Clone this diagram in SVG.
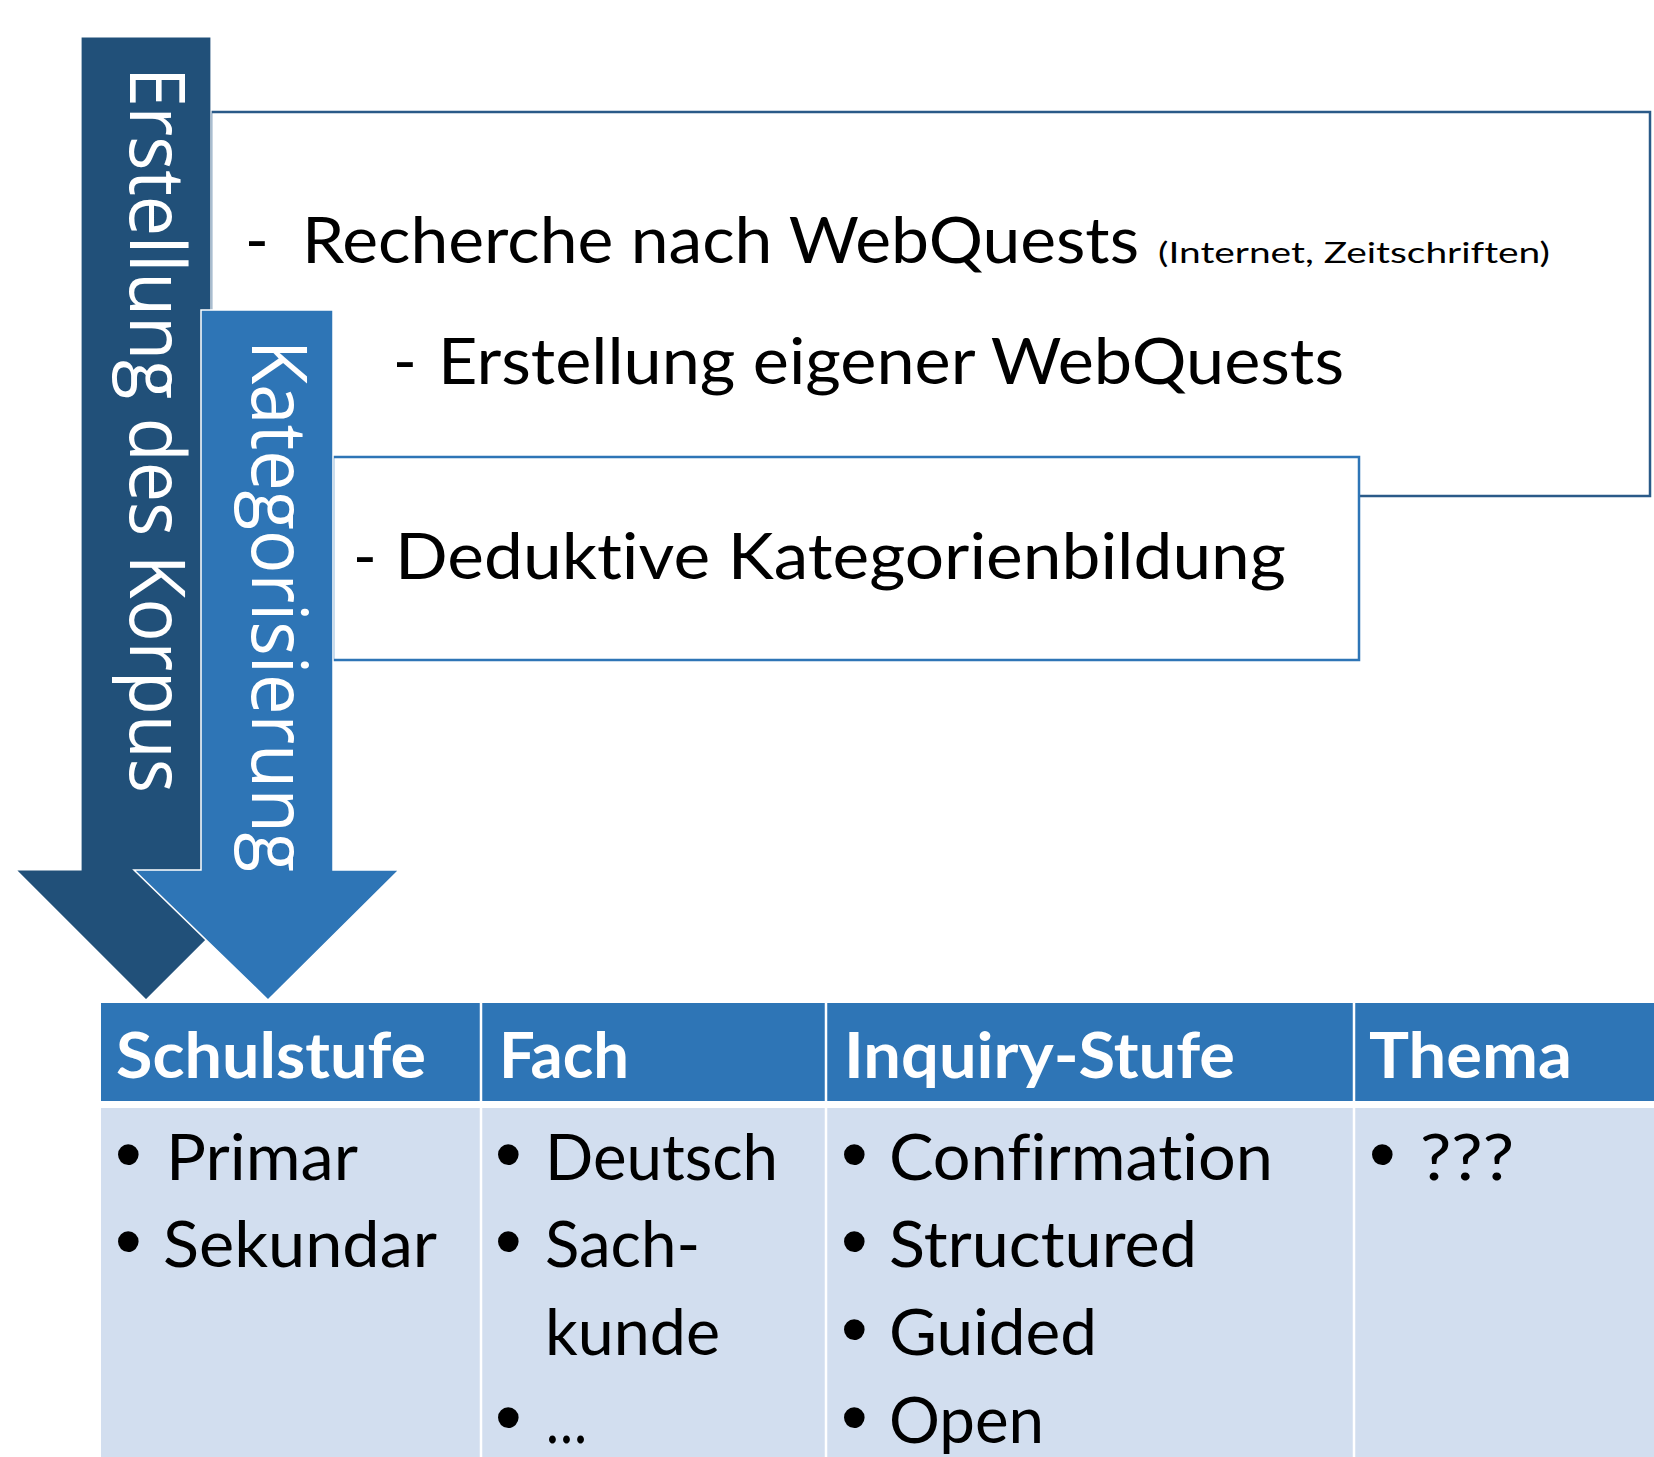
<svg xmlns="http://www.w3.org/2000/svg" width="1654" height="1457" viewBox="0 0 1654 1457">
<style>
text{font-variant-ligatures:none;font-feature-settings:"liga" 0,"clig" 0}
.t{font-family:Lato,"Open Sans","Liberation Sans",sans-serif;font-size:64px;fill:#000}
.s{font-family:Lato,"Open Sans","Liberation Sans",sans-serif;font-size:29px;fill:#000}
.h{font-family:Lato,"Open Sans","Liberation Sans",sans-serif;font-size:64px;font-weight:bold;fill:#fff}
.v{font-family:"Open Sans",Lato,"Liberation Sans",sans-serif;font-size:77px;fill:#fff}
.b{font-family:"Liberation Sans",Arial,sans-serif;font-size:76px;fill:#000}
.sep{stroke:#fff;stroke-width:2.5}
</style>
<rect width="1654" height="1457" fill="#fff"/>
<g id="box-corpus">
<rect x="211" y="112" width="1439" height="384" fill="#fff" stroke="#2A5A88" stroke-width="2.5"/>
<text class="t" x="245" y="263">-</text>
<text class="t" x="302" y="263" textLength="837" lengthAdjust="spacingAndGlyphs">Recherche nach WebQuests</text>
<text class="s" x="1158" y="263" textLength="392" lengthAdjust="spacingAndGlyphs">(Internet, Zeitschriften)</text>
<text class="t" x="393" y="384">-</text>
<text class="t" x="438" y="384" textLength="906" lengthAdjust="spacingAndGlyphs">Erstellung eigener WebQuests</text>
</g>
<g id="box-kategorien">
<rect x="333" y="457" width="1026" height="203" fill="#fff" stroke="#2E75B6" stroke-width="2.5"/>
<text class="t" x="353" y="579">-</text>
<text class="t" x="395" y="579" textLength="891" lengthAdjust="spacingAndGlyphs">Deduktive Kategorienbildung</text>
</g>
<g id="arrow-corpus">
<polygon points="81,37 211,37 211,870 276,870 146,1000 16,870 81,870" fill="#215079" stroke="#fff" stroke-width="1.2"/>
<text class="v" transform="translate(130,67) rotate(90)" x="0" y="0" textLength="726" lengthAdjust="spacingAndGlyphs">Erstellung des Korpus</text>
</g>
<g id="arrow-kategorisierung">
<polygon points="201,310 333,310 333,870 399,870 268,1000 134,870 201,870" fill="#2E75B6" stroke="#fff" stroke-width="1.5"/>
<text class="v" transform="translate(252,340) rotate(90)" x="0" y="0" textLength="532" lengthAdjust="spacingAndGlyphs" style="font-size:76px">Kategorisierung</text>
</g>
<g id="table">
<rect x="101" y="1003" width="1553" height="98" fill="#2E75B6"/>
<rect x="101" y="1108" width="1553" height="349" fill="#D2DEEF"/>
<line class="sep" x1="481" y1="1003" x2="481" y2="1457"/>
<line class="sep" x1="826" y1="1003" x2="826" y2="1457"/>
<line class="sep" x1="1354" y1="1003" x2="1354" y2="1457"/>
<text class="h" x="116" y="1078" textLength="310" lengthAdjust="spacingAndGlyphs">Schulstufe</text>
<text class="h" x="499" y="1078" textLength="130" lengthAdjust="spacingAndGlyphs">Fach</text>
<text class="h" x="844" y="1078" textLength="391" lengthAdjust="spacingAndGlyphs">Inquiry-Stufe</text>
<text class="h" x="1369" y="1078" textLength="203" lengthAdjust="spacingAndGlyphs">Thema</text>
<text class="b" x="115" y="1180">•</text>
<text class="t" x="166" y="1180" textLength="192" lengthAdjust="spacingAndGlyphs">Primar</text>
<text class="b" x="115" y="1267">•</text>
<text class="t" x="163" y="1267" textLength="274" lengthAdjust="spacingAndGlyphs">Sekundar</text>
<text class="b" x="495" y="1180">•</text>
<text class="t" x="545" y="1180" textLength="233" lengthAdjust="spacingAndGlyphs">Deutsch</text>
<text class="b" x="495" y="1267">•</text>
<text class="t" x="545" y="1267" textLength="155" lengthAdjust="spacingAndGlyphs">Sach-</text>
<text class="t" x="545" y="1355" textLength="175" lengthAdjust="spacingAndGlyphs">kunde</text>
<text class="b" x="495" y="1443">•</text>
<text class="t" x="546" y="1443" textLength="41" lengthAdjust="spacingAndGlyphs">…</text>
<text class="b" x="841" y="1180">•</text>
<text class="t" x="889" y="1180" textLength="384" lengthAdjust="spacingAndGlyphs">Confirmation</text>
<text class="b" x="841" y="1267">•</text>
<text class="t" x="889" y="1267" textLength="308" lengthAdjust="spacingAndGlyphs">Structured</text>
<text class="b" x="841" y="1355">•</text>
<text class="t" x="889" y="1355" textLength="208" lengthAdjust="spacingAndGlyphs">Guided</text>
<text class="b" x="841" y="1443">•</text>
<text class="t" x="889" y="1443" textLength="155" lengthAdjust="spacingAndGlyphs">Open</text>
<text class="b" x="1369" y="1180">•</text>
<text class="t" x="1420" y="1180" textLength="94" lengthAdjust="spacingAndGlyphs">???</text>
</g>
<g id="connectors"></g>
</svg>
